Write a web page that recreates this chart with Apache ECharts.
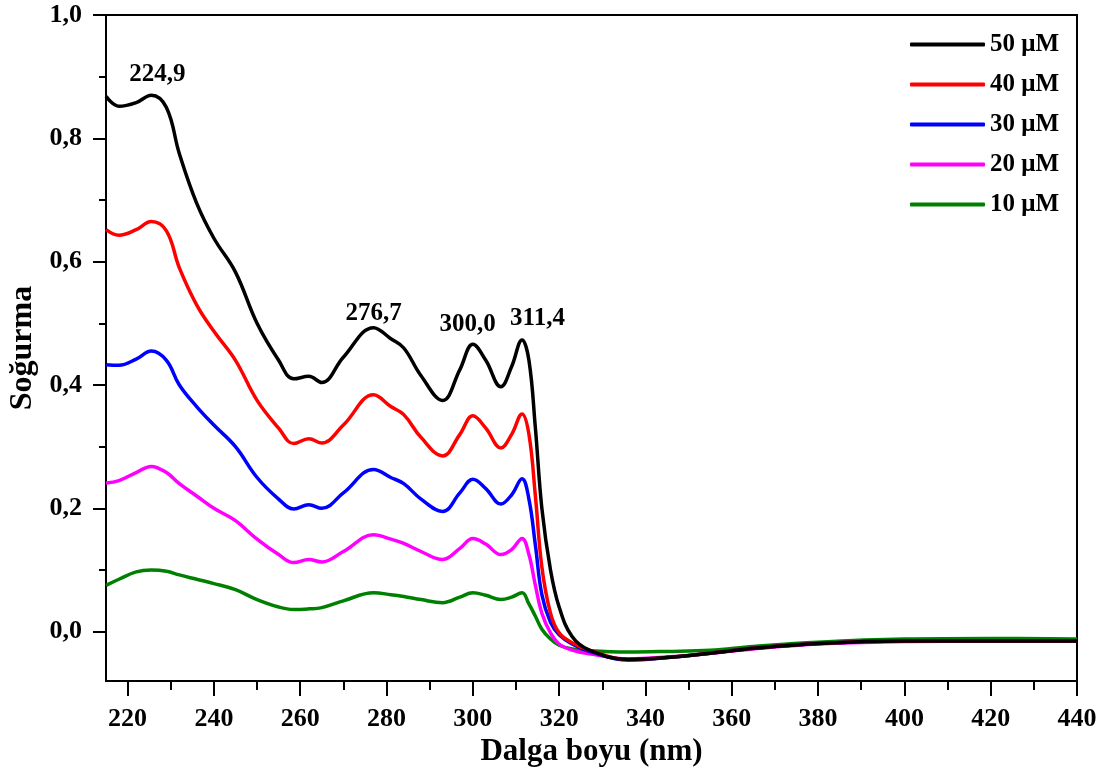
<!DOCTYPE html>
<html>
<head>
<meta charset="utf-8">
<script src="https://cdn.jsdelivr.net/npm/echarts@6/dist/echarts.min.js"></script>
<style>
  html, body { margin: 0; padding: 0; background: #fff; }
  #chart { width: 1112px; height: 769px; }
</style>
</head>
<body>
<div id="chart"></div>
<script>
// dalga boyu (nm) – ortak örnekleme noktaları
const wavelengths = [215, 218, 222, 225.5, 229, 232, 236, 240, 245, 250, 255, 258.5, 262, 265, 270, 277, 281, 284, 288, 293, 297, 300, 303, 306.5, 309, 311.4, 313, 314.5, 316, 318, 320, 323, 327, 336, 345, 355, 365, 380, 400, 420, 440];

const abs50 = [0.868, 0.852, 0.858, 0.870, 0.850, 0.775, 0.695, 0.638, 0.583, 0.500, 0.440, 0.410, 0.414, 0.404, 0.445, 0.493, 0.475, 0.460, 0.415, 0.375, 0.425, 0.466, 0.440, 0.397, 0.430, 0.473, 0.440, 0.330, 0.200, 0.100, 0.040, -0.008, -0.030, -0.045, -0.042, -0.035, -0.027, -0.019, -0.015, -0.015, -0.015];
const abs40 = [0.652, 0.643, 0.652, 0.665, 0.650, 0.590, 0.530, 0.487, 0.440, 0.375, 0.330, 0.305, 0.313, 0.306, 0.335, 0.384, 0.365, 0.352, 0.315, 0.285, 0.320, 0.350, 0.330, 0.298, 0.320, 0.353, 0.320, 0.220, 0.105, 0.030, -0.002, -0.018, -0.030, -0.045, -0.042, -0.035, -0.027, -0.019, -0.015, -0.015, -0.015];
const abs30 = [0.433, 0.432, 0.442, 0.455, 0.440, 0.400, 0.365, 0.335, 0.300, 0.250, 0.215, 0.199, 0.206, 0.200, 0.225, 0.263, 0.250, 0.240, 0.215, 0.195, 0.225, 0.247, 0.232, 0.207, 0.222, 0.248, 0.215, 0.140, 0.060, 0.015, -0.005, -0.020, -0.032, -0.046, -0.042, -0.035, -0.027, -0.019, -0.015, -0.015, -0.015];
const abs20 = [0.241, 0.245, 0.258, 0.268, 0.258, 0.240, 0.220, 0.200, 0.180, 0.150, 0.125, 0.112, 0.117, 0.113, 0.130, 0.157, 0.150, 0.143, 0.130, 0.117, 0.135, 0.151, 0.142, 0.125, 0.133, 0.151, 0.125, 0.075, 0.030, -0.002, -0.020, -0.030, -0.036, -0.044, -0.041, -0.035, -0.028, -0.020, -0.016, -0.015, -0.015];
const abs10 = [0.075, 0.085, 0.097, 0.100, 0.098, 0.092, 0.085, 0.078, 0.068, 0.052, 0.040, 0.036, 0.037, 0.039, 0.050, 0.063, 0.060, 0.057, 0.052, 0.047, 0.056, 0.063, 0.059, 0.052, 0.056, 0.063, 0.045, 0.025, 0.004, -0.012, -0.022, -0.028, -0.031, -0.033, -0.032, -0.030, -0.024, -0.017, -0.012, -0.011, -0.012];

const seriesNames = ['50 μM', '40 μM', '30 μM', '20 μM', '10 μM'];
const seriesColors = ['#000000', '#ff0000', '#0000ff', '#ff00ff', '#008000'];
const seriesValues = [abs50, abs40, abs30, abs20, abs10];

// eksen işaretleri
const xMajorTicks = [220, 240, 260, 280, 300, 320, 340, 360, 380, 400, 420, 440];
const xMinorTicks = [230, 250, 270, 290, 310, 330, 350, 370, 390, 410, 430];
const yMajorTicks = [0, 0.2, 0.4, 0.6, 0.8, 1.0];
const yMinorTicks = [0.1, 0.3, 0.5, 0.7, 0.9];

// tepe etiketleri (yazı merkezleri)
const peakLabels = ['224,9', '276,7', '300,0', '311,4'];
const peakLabelX = [226.9, 277.0, 298.8, 315.0];
const peakLabelY = [0.904, 0.516, 0.498, 0.507];

const FONT = '"Liberation Serif", "Times New Roman", serif';
const chart = echarts.init(document.getElementById('chart'));

const series = seriesValues.map((vals, i) => ({
  name: seriesNames[i],
  type: 'line',
  xAxisIndex: 0,
  yAxisIndex: 0,
  data: wavelengths.map((w, k) => [w, vals[k]]),
  showSymbol: false,
  smooth: 0.4,
  lineStyle: { color: seriesColors[i], width: 3.5 },
  itemStyle: { color: seriesColors[i] },
  z: 10 - i,
  markPoint: i === 0 ? {
    symbol: 'circle',
    symbolSize: 1,
    itemStyle: { color: 'rgba(0,0,0,0)' },
    label: {
      show: true,
      position: 'inside',
      color: '#000',
      fontFamily: FONT,
      fontWeight: 'bold',
      fontSize: 25,
      formatter: p => p.name
    },
    data: peakLabels.map((t, k) => ({ name: t, coord: [peakLabelX[k], peakLabelY[k]] }))
  } : undefined
}));

const fmt = v => v.toFixed(1).replace('.', ',');
const axisFont = { fontFamily: FONT, fontWeight: 'bold', fontSize: 26, color: '#000' };

// yalnızca tik çizen yardımcı eksenler
function tickAxis(min, max, pos, values, len) {
  return {
    type: 'value', min: min, max: max, position: pos,
    axisLine: { show: false, onZero: false },
    axisTick: { show: true, customValues: values, length: len, lineStyle: { color: '#000', width: 2 } },
    axisLabel: { show: false },
    splitLine: { show: false }
  };
}

chart.setOption({
  backgroundColor: '#fff',
  animation: false,
  grid: {
    left: 106, right: 35, top: 15, bottom: 88,
    outerBoundsMode: 'none',
    containLabel: false,
    show: true, borderColor: '#000', borderWidth: 2
  },
  legend: {
    orient: 'vertical',
    left: 905,
    top: 27,
    itemWidth: 75,
    itemHeight: 4,
    itemGap: 15,
    icon: 'roundRect',
    textStyle: { fontFamily: FONT, fontWeight: 'bold', fontSize: 25, color: '#000' },
    data: seriesNames
  },
  xAxis: [{
    type: 'value', min: 215, max: 440,
    name: 'Dalga boyu (nm)', nameLocation: 'middle', nameGap: 54,
    nameTextStyle: { fontFamily: FONT, fontWeight: 'bold', fontSize: 31, color: '#000' },
    axisLine: { show: true, onZero: false, lineStyle: { color: '#000', width: 2 } },
    axisTick: { show: false },
    axisLabel: Object.assign({ customValues: xMajorTicks, margin: 25 }, axisFont),
    splitLine: { show: false }
  },
  tickAxis(215, 440, 'bottom', xMajorTicks, 15),
  tickAxis(215, 440, 'bottom', xMinorTicks, 9)],
  yAxis: [{
    type: 'value', min: -0.08, max: 1.0,
    name: 'Soğurma', nameLocation: 'middle', nameGap: 66,
    nameTextStyle: { fontFamily: FONT, fontWeight: 'bold', fontSize: 32, color: '#000' },
    axisLine: { show: true, onZero: false, lineStyle: { color: '#000', width: 2 } },
    axisTick: { show: false },
    axisLabel: Object.assign({ customValues: yMajorTicks, margin: 24, formatter: fmt }, axisFont),
    splitLine: { show: false }
  },
  tickAxis(-0.08, 1.0, 'left', yMajorTicks, 13),
  tickAxis(-0.08, 1.0, 'left', yMinorTicks, 7)],
  series: series
});
</script>
</body>
</html>
